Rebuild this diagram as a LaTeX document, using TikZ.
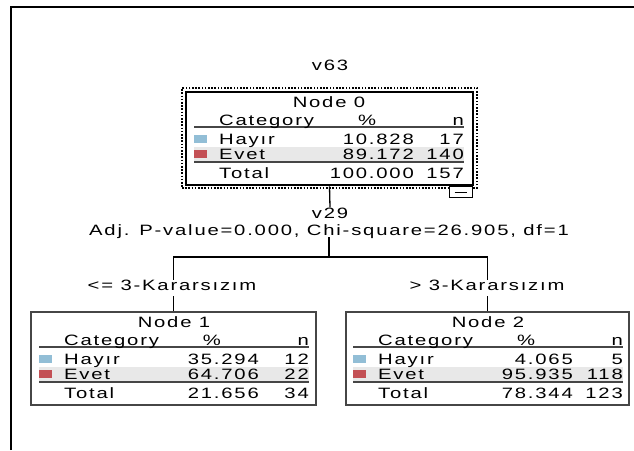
\documentclass[tikz,border=0pt]{standalone}
\usepackage{fontspec}
\newfontfamily\spssfont[FakeStretch=1.35,LetterSpace=12]{Liberation Sans}
\definecolor{hayircol}{RGB}{146,190,214}
\definecolor{evetcol}{RGB}{195,80,85}
\definecolor{bandgray}{RGB}{232,232,232}
\definecolor{rulegray}{RGB}{70,70,70}
\tikzset{
  txt/.style={font={\spssfont\fontsize{15}{18}\selectfont}, inner sep=0pt, text height=10.7pt, text depth=0pt},
  rulel/.style={draw=rulegray, line width=1.3pt},
  box0/.style={draw=black, line width=2.6pt, minimum width=287pt, minimum height=93pt, inner sep=0pt},
  boxc/.style={draw=rulegray, line width=1.4pt, minimum width=285pt, minimum height=93pt, inner sep=0pt},
  selbox/.style={draw=black, line width=1.3pt, dash pattern=on 1.6pt off 1.6pt, minimum width=295pt, minimum height=100pt, inner sep=0pt},
  colbox/.style={draw=black, fill=white, line width=1pt, minimum width=23pt, minimum height=11pt, inner sep=0pt},
  conn/.style={draw=black, line width=1.3pt},
  frameline/.style={draw=black, line width=1.8pt},
}
\newcommand{\spsstab}[8]{%
  \fill[bandgray] (8,55) rectangle (278,69);
  \draw[rulel] (8,35) -- (278,35);
  \draw[rulel] (8,70) -- (278,70);
  \fill[hayircol] (8,43) rectangle (21,51);
  \fill[evetcol] (8,58) rectangle (21,66);
  \node[txt] (#1title) at (143,10) {#2};
  \node[txt,anchor=west] (#1cat) at (33,28.5) {Category};
  \node[txt] (#1pct) at (181,28.5) {\%};
  \node[txt,anchor=east] (#1n) at (278,28.5) {n};
  \node[txt,anchor=west] (#1hl) at (33,47.5) {Hayır};
  \node[txt,anchor=east] (#1hp) at (228,47.5) {#3};
  \node[txt,anchor=east] (#1hn) at (278,47.5) {#4};
  \node[txt,anchor=west] (#1el) at (33,62) {Evet};
  \node[txt,anchor=east] (#1ep) at (228,62) {#5};
  \node[txt,anchor=east] (#1en) at (278,62) {#6};
  \node[txt,anchor=west] (#1tl) at (33,81) {Total};
  \node[txt,anchor=east] (#1tp) at (228,81) {#7};
  \node[txt,anchor=east] (#1tn) at (278,81) {#8};
}
\begin{document}
\begin{tikzpicture}[x=1pt,y=-1pt]
\useasboundingbox (0,0) rectangle (634,450);
% frame
\draw[frameline] (11,450) -- (11,7) -- (634,7);
% titles
\node[txt] (v63) at (330,65) {v63};
% node 0
\node[selbox] (sel0) at (329.5,138) {};
\node[box0] (n0) at (329.5,138.5) {};
\begin{scope}[shift={(186,92)}]
  \spsstab{a}{Node 0}{10.828}{17}{89.172}{140}{100.000}{157}
\end{scope}
\node[colbox] (col0) at (460.5,192) {};
\draw[line width=1pt] ([xshift=-6pt]col0.center) -- ([xshift=6pt]col0.center);
% split info
\node[txt] (v29) at (330,213) {v29};
\node[txt, text depth=1.6pt] (adj) at (329,231) {Adj. P-value=0.000, Chi-square=26.905, df=1};
\coordinate (split) at (329,257);
% children
\node[boxc] (n1) at (173.5,358.5) {};
\node[boxc, minimum width=283pt] (n2) at (487.5,358.5) {};
\node[txt, anchor=north, text depth=5.5pt] (lbl1) at (172,279.5) {<= 3-Kararsızım};
\node[txt, anchor=north, text depth=5.5pt] (lbl2) at (487,279.5) {> 3-Kararsızım};
\begin{scope}[shift={(31,312)}]
  \spsstab{b}{Node 1}{35.294}{12}{64.706}{22}{21.656}{34}
\end{scope}
\begin{scope}[shift={(345,312)}]
  \spsstab{c}{Node 2}{4.065}{5}{95.935}{118}{78.344}{123}
\end{scope}
% connectors
\draw[conn] (n0.south) -- (v29.north);
\draw[conn] (adj.south) -- (split);
\draw[conn] (split) -| (lbl1.north -| n1.north);
\draw[conn] (lbl1.south -| n1.north) -- (n1.north);
\draw[conn] (split) -| (lbl2.north -| n2.north);
\draw[conn] (lbl2.south -| n2.north) -- (n2.north);
\end{tikzpicture}
\end{document}
